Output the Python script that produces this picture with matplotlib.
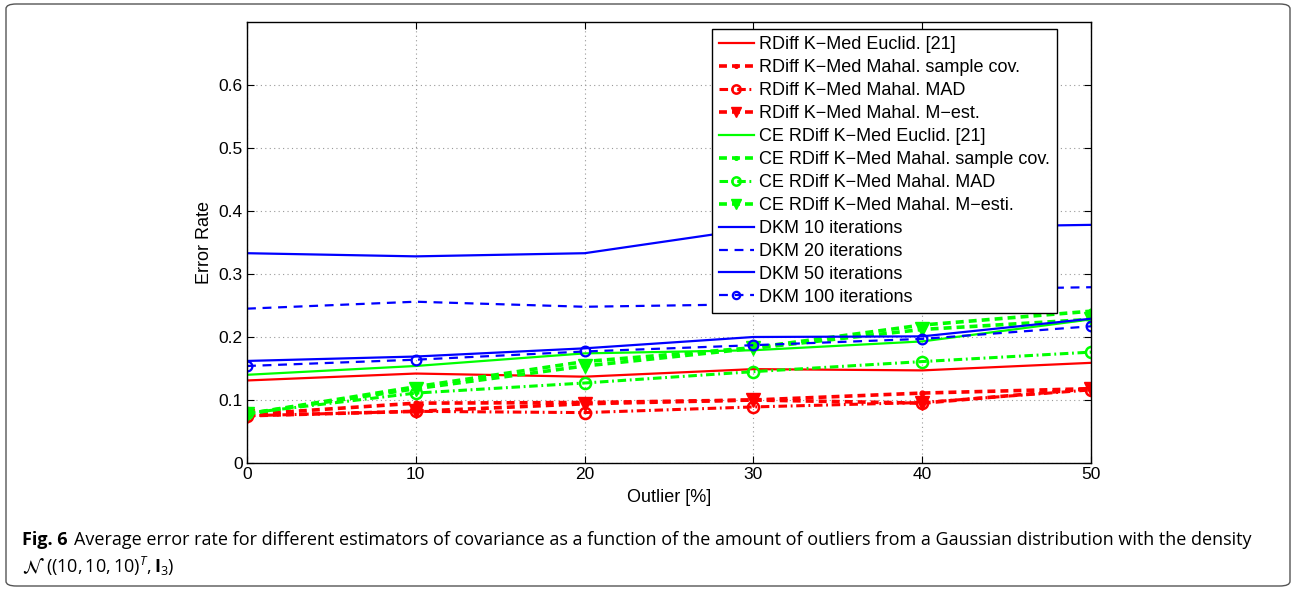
import matplotlib
matplotlib.use('Agg')
import matplotlib.pyplot as plt
from matplotlib.patches import FancyBboxPatch

plt.rcParams['font.family'] = ['Liberation Sans', 'DejaVu Sans']
plt.rcParams['mathtext.fontset'] = 'custom'
plt.rcParams['mathtext.rm'] = 'Open Sans'
plt.rcParams['mathtext.it'] = 'Open Sans:italic'
plt.rcParams['mathtext.bf'] = 'Open Sans:bold'

# outlier percentage
outlier = [0, 10, 20, 30, 40, 50]

# error rates
rdiff_euclid = [0.131, 0.142, 0.137, 0.149, 0.147, 0.159]
rdiff_samplecov = [0.077, 0.095, 0.096, 0.100, 0.111, 0.118]
rdiff_mad = [0.075, 0.082, 0.080, 0.089, 0.096, 0.116]
rdiff_mest = [0.075, 0.082, 0.094, 0.100, 0.095, 0.118]
ce_euclid = [0.140, 0.154, 0.174, 0.179, 0.193, 0.228]
ce_samplecov = [0.078, 0.121, 0.161, 0.183, 0.219, 0.241]
ce_mad = [0.079, 0.111, 0.127, 0.145, 0.161, 0.176]
ce_mest = [0.078, 0.118, 0.154, 0.182, 0.212, 0.228]
dkm10 = [0.333, 0.328, 0.333, 0.372, 0.374, 0.378]
dkm20 = [0.245, 0.256, 0.248, 0.252, 0.275, 0.279]
dkm50 = [0.162, 0.169, 0.182, 0.200, 0.201, 0.229]
dkm100 = [0.154, 0.164, 0.177, 0.187, 0.197, 0.217]

labels = ['RDiff K\u2212Med Euclid. [21]',
          'RDiff K\u2212Med Mahal. sample cov.',
          'RDiff K\u2212Med Mahal. MAD',
          'RDiff K\u2212Med Mahal. M\u2212est.',
          'CE RDiff K\u2212Med Euclid. [21]',
          'CE RDiff K\u2212Med Mahal. sample cov.',
          'CE RDiff K\u2212Med Mahal. MAD',
          'CE RDiff K\u2212Med Mahal. M\u2212esti.',
          'DKM 10 iterations',
          'DKM 20 iterations',
          'DKM 50 iterations',
          'DKM 100 iterations']

R, G, B = '#ff0000', '#00ff00', '#0000ff'
thick_dash = (2.2, 1.4)
dash_dot = (2.8, 1.2, 0.6, 1.2)
thin_dash = (4, 3)

fig = plt.figure(figsize=(12.92, 5.89), dpi=100)

# rounded frame round the whole figure
frame = FancyBboxPatch((6 / 1292, 3 / 589), 1284 / 1292, 582 / 589,
                       boxstyle='round,pad=0,rounding_size=0.008',
                       transform=fig.transFigure, fill=False,
                       edgecolor='#555555', linewidth=1.0)
fig.patches.append(frame)

ax = fig.add_axes([247 / 1292, 1 - 463 / 589, 844 / 1292, 441 / 589])

ax.plot(outlier, rdiff_euclid, '-', color=R, lw=1.6, label=labels[0])
ax.plot(outlier, rdiff_samplecov, '--', dashes=thick_dash, color=R, lw=2.6, marker='.', ms=7, label=labels[1])
ax.plot(outlier, rdiff_mad, '-.', dashes=dash_dot, color=R, lw=2.2, marker='o', ms=8, mfc='none', mew=1.8, label=labels[2])
ax.plot(outlier, rdiff_mest, '--', dashes=thick_dash, color=R, lw=2.6, marker='v', ms=10, label=labels[3])
ax.plot(outlier, ce_euclid, '-', color=G, lw=1.6, label=labels[4])
ax.plot(outlier, ce_samplecov, '--', dashes=thick_dash, color=G, lw=2.6, marker='.', ms=7, label=labels[5])
ax.plot(outlier, ce_mad, '-.', dashes=dash_dot, color=G, lw=2.2, marker='o', ms=8, mfc='none', mew=1.8, label=labels[6])
ax.plot(outlier, ce_mest, '--', dashes=thick_dash, color=G, lw=2.6, marker='v', ms=10, label=labels[7])
ax.plot(outlier, dkm10, '-', color=B, lw=1.6, label=labels[8])
ax.plot(outlier, dkm20, '--', dashes=thin_dash, color=B, lw=1.6, label=labels[9])
ax.plot(outlier, dkm50, '-', color=B, lw=1.6, label=labels[10])
ax.plot(outlier, dkm100, '--', dashes=thin_dash, color=B, lw=1.6, marker='o', ms=7, mfc='none', mew=1.6, label=labels[11])

ax.set_xlim(0, 50)
ax.set_ylim(0, 0.7)
ax.set_xticks(outlier)
ax.set_yticks([0, 0.1, 0.2, 0.3, 0.4, 0.5, 0.6])
ax.set_yticklabels(['0', '0.1', '0.2', '0.3', '0.4', '0.5', '0.6'])
ax.tick_params(direction='in', top=True, right=True, length=5, width=0.8, labelsize=12.5, pad=3)
ax.grid(True, linestyle=(0, (1, 3)), color='#999999', linewidth=0.8)
for s in ax.spines.values():
    s.set_linewidth(1.0)

ax.set_xlabel('Outlier [%]', fontsize=13, labelpad=5)
ax.set_ylabel('Error Rate', fontsize=13, labelpad=4)

leg = ax.legend(loc='upper left', bbox_to_anchor=(712 / 1292, 1 - 29 / 589),
                bbox_transform=fig.transFigure, borderaxespad=0, fontsize=13,
                fancybox=False, framealpha=1, edgecolor='black',
                handlelength=1.9, handletextpad=0.3, labelspacing=0.33,
                borderpad=0.4, markerscale=0.75)
leg.get_frame().set_linewidth(1.0)

# caption below the plot
fig.text(22 / 1292, 1 - 545 / 589, 'Fig. 6', fontsize=13, fontweight='bold',
         family='Open Sans', va='baseline')
fig.text(74 / 1292, 1 - 545 / 589,
         'Average error rate for different estimators of covariance as a function of the amount '
         'of outliers from a Gaussian distribution with the density',
         fontsize=13, family='Open Sans', va='baseline')
fig.text(22 / 1292, 1 - 573 / 589, r'$\mathcal{N}$', fontsize=14, va='baseline',
         math_fontfamily='stix')
fig.text(46 / 1292, 1 - 573 / 589, r'$((10, 10, 10)^T, \mathbf{I}_3)$',
         fontsize=13, va='baseline')

fig.savefig('out.png', dpi=100)
